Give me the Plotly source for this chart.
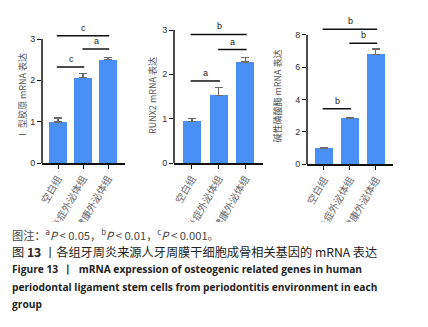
import plotly.graph_objects as go

W, H = 428, 327

groups = ["空白组", "炎症外泌体组", "健康外泌体组"]
col1_vals = [0.99, 2.07, 2.51]
col1_err = [0.10, 0.10, 0.05]
runx2_vals = [0.94, 1.53, 2.28]
runx2_err = [0.07, 0.17, 0.10]
alp_vals = [0.99, 2.81, 6.78]
alp_err = [0.03, 0.08, 0.35]

y_titles = ["Ⅰ 型胶原 mRNA 表达", "RUNX2 mRNA 表达", "碱性磷酸酶 mRNA 表达"]
y_ticks = [[0, 1, 2, 3], [0, 1, 2, 3], [0, 2, 4, 6, 8]]
y_max_tick = [3, 3, 8]

# significance: (from idx, to idx, y value, label)
sig1 = [(0, 2, 3.08, "c"), (1, 2, 2.76, "a"), (0, 1, 2.32, "c")]
sig2 = [(0, 2, 2.90, "b"), (1, 2, 2.56, "a"), (0, 1, 1.85, "a")]
sig3 = [(0, 2, 8.35, "b"), (1, 2, 7.48, "b"), (0, 1, 3.43, "b")]

vals = [col1_vals, runx2_vals, alp_vals]
errs = [col1_err, runx2_err, alp_err]
sigs = [sig1, sig2, sig3]

# layout geometry in pixels
panels = [
    dict(x0=42, x1=125, ybot=163, ytop=26.6, yr=3.3, xr=(-0.64, 2.68), bw=0.72, tx=22),
    dict(x0=174, x1=263, ybot=163, ytop=30, yr=3.0, xr=(-0.67, 2.66), bw=0.68, tx=152),
    dict(x0=307, x1=393, ybot=164, ytop=25.3, yr=8.6, xr=(-0.65, 2.66), bw=0.68, tx=277),
]

BLUE = "#4a8ff5"
fig = go.Figure()
shapes = []
annotations = []
xs = [0, 1, 2]

for i, p in enumerate(panels):
    n = "" if i == 0 else str(i + 1)
    xa, ya = "x" + n, "y" + n
    fig.add_trace(go.Bar(
        x=xs, y=vals[i], xaxis=xa, yaxis=ya, width=p["bw"],
        marker=dict(color=BLUE, line=dict(width=0)),
        error_y=dict(type="data", array=errs[i], arrayminus=[0, 0, 0], symmetric=False,
                     color="#6b6b6b", thickness=1.2, width=4),
        showlegend=False, hoverinfo="skip",
    ))
    fig.update_layout(**{
        ("xaxis" + n): dict(
            domain=[p["x0"] / W, p["x1"] / W], anchor=ya, range=list(p["xr"]),
            tickmode="array", tickvals=xs, ticktext=groups, tickangle=-60,
            showline=True, linecolor="#111", linewidth=1.5, ticks="outside",
            ticklen=4, tickwidth=1.2, tickcolor="#111", showgrid=False, zeroline=False,
            automargin=False,
            tickfont=dict(size=10, color="#666", family="Noto Sans CJK SC"),
        ),
        ("yaxis" + n): dict(
            domain=[1 - p["ybot"] / H, 1 - p["ytop"] / H], anchor=xa, range=[0, p["yr"]],
            tickmode="array", tickvals=y_ticks[i], showline=False, ticks="outside",
            ticklen=4, tickwidth=1.2, tickcolor="#111", showgrid=False, zeroline=False,
            automargin=False,
            tickfont=dict(size=9, color="#2b3340", family="Liberation Sans"),
        ),
    })
    # y axis line only up to the top tick
    shapes.append(dict(type="line", xref=xa + " domain", yref=ya, x0=0, x1=0, y0=0,
                       y1=y_max_tick[i], line=dict(color="#111", width=1.5)))
    # axis title
    annotations.append(dict(
        text=y_titles[i], xref="paper", yref="paper", x=p["tx"] / W,
        y=1 - ((p["ybot"] + 39) / 2 - 5) / H, textangle=-90, showarrow=False,
        font=dict(size=9, color="#555", family="Noto Sans CJK SC"),
        xanchor="center", yanchor="middle"))
    for (a, b, yv, lab) in sigs[i]:
        shapes.append(dict(type="line", xref=xa, yref=ya, x0=a - 0.05 if a == 0 else a - 0.02,
                           x1=b + 0.05, y0=yv, y1=yv, line=dict(color="#111", width=1.5)))
        annotations.append(dict(text=lab, xref=xa, yref=ya, x=(a + b) / 2 + 0.02, y=yv,
                                yshift=8, showarrow=False,
                                font=dict(size=9, color="#222", family="Liberation Sans")))

# white band that crops the rotated labels above the caption
shapes.append(dict(type="rect", xref="paper", yref="paper", x0=0, x1=1, y0=0,
                   y1=1 - 222 / H, fillcolor="white", line=dict(width=0), layer="above"))

# caption
cap_font = "Noto Sans CJK SC"
captions = [
    (235, "图注：<sup>a</sup><i>P</i> < 0.05，<sup>b</sup><i>P</i> < 0.01，<sup>c</sup><i>P</i> < 0.001。",
     dict(size=11.2, color="#444", family=cap_font)),
    (252, "图 <b>13</b> 丨各组牙周炎来源人牙周膜干细胞成骨相关基因的 mRNA 表达",
     dict(size=12.2, color="#222", family=cap_font)),
    (269, "<b>Figure 13  丨  mRNA expression of osteogenic related genes in human</b>",
     dict(size=10.2, color="#222", family="Open Sans")),
    (287, "<b>periodontal ligament stem cells from periodontitis environment in each</b>",
     dict(size=10.2, color="#222", family="Open Sans")),
    (304, "<b>group</b>", dict(size=10.2, color="#222", family="Open Sans")),
]
for yp, txt, f in captions:
    annotations.append(dict(text=txt, xref="paper", yref="paper", x=10 / W, y=1 - yp / H,
                            xanchor="left", yanchor="middle", showarrow=False, font=f))

fig.update_layout(
    width=W, height=H, margin=dict(l=0, r=0, t=0, b=0, autoexpand=False),
    paper_bgcolor="white", plot_bgcolor="white",
    shapes=shapes, annotations=annotations, bargap=0,
)
fig.write_html("out.html", config={"displayModeBar": False},
               post_script="document.body.style.margin='0';document.body.style.padding='0';")
